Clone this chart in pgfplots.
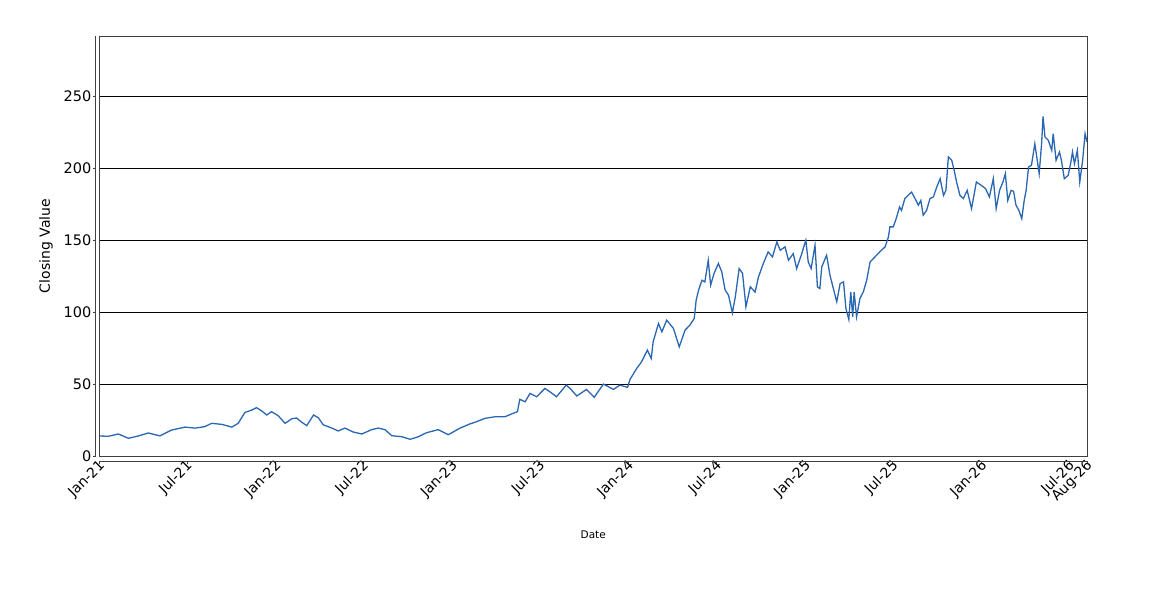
\documentclass[border=0pt]{standalone}
\usepackage{pgfplots}
\pgfplotsset{compat=1.18}
\usepackage{fontspec}
\setmainfont{DejaVu Sans}
\definecolor{linecol}{RGB}{42,102,178}
\definecolor{boxcol}{RGB}{64,64,64}
\begin{document}
\begin{tikzpicture}
\useasboundingbox (0,0) rectangle (1150bp,600bp);
\begin{axis}[
  name=ax,
  at={(99.5bp,144bp)}, anchor=south west,
  scale only axis, width=987.5bp, height=420bp,
  xmin=0, xmax=2044, ymin=0, ymax=292,
  axis line style={boxcol, line width=0.9bp},
  xtick={0,181,365,546,730,911,1095,1277,1461,1642,1826,2007,2044},
  xticklabels={Jan-21,Jul-21,Jan-22,Jul-22,Jan-23,Jul-23,Jan-24,Jul-24,Jan-25,Jul-25,Jan-26,Jul-26,Aug-26},
  ytick={0,50,100,150,200,250},
  tick pos=left, tick align=outside, major tick length=3bp,
  x tick style={boxcol, line width=0.8bp, yshift=-5.5bp},
  y tick style={boxcol, line width=0.8bp, xshift=-4bp},
  xticklabel style={font=\fontsize{14bp}{16bp}\selectfont, rotate=45, anchor=east, inner sep=1bp, yshift=-5.5bp},
  yticklabel style={font=\fontsize{14.5bp}{16bp}\selectfont, anchor=east, inner sep=1bp, xshift=-4bp},
  /pgf/number format/assume math mode=true,
  ymajorgrids, major grid style={black, line width=0.9bp},
  xlabel={Date}, ylabel={Closing Value},
  xlabel style={font=\fontsize{10.5bp}{12bp}\selectfont, at={(axis description cs:0.5,-0.188)}, anchor=center},
  ylabel style={font=\fontsize{14bp}{16bp}\selectfont, at={(axis description cs:-0.0542,0.5)}, anchor=center},
]
\addplot[linecol, line width=1.3bp] coordinates {
(1,13.9)(18,13.7)(39,15.3)(60,12.3)(80,13.9)(101,16.0)(125,14.0)(149,18.0)(177,20.1)(198,19.4)
(218,20.4)(232,22.7)(253,22.0)(274,20.1)(287,22.7)(301,30.3)(315,31.9)(325,33.6)(336,31.3)(346,28.5)
(356,30.8)(370,28.0)(384,22.7)(398,25.9)(408,26.4)(418,23.6)(429,21.1)(443,28.5)(453,26.6)(463,21.7)
(481,19.4)(494,17.4)(508,19.4)(525,16.7)(543,15.3)(563,18.3)(577,19.4)(591,18.3)(605,14.1)(626,13.4)
(643,11.6)(660,13.4)(677,16.2)(701,18.3)(722,14.8)(745,19.2)(766,22.2)(780,23.8)(798,26.2)(819,27.3)
(839,27.3)(853,29.2)(865,30.8)(870,39.4)(881,37.7)(891,43.5)(905,41.2)(922,47.0)(932,44.7)(946,41.2)
(966,49.3)(974,47.0)(988,41.7)(1008,46.3)(1024,40.8)(1043,50.0)(1064,46.3)(1077,49.3)(1093,47.7)(1098,53.2)
(1112,60.9)(1122,65.5)(1134,73.6)(1142,67.8)(1146,79.4)(1157,92.1)(1164,86.3)(1174,94.4)(1188,88.7)(1200,75.9)
(1212,87.5)(1222,91.0)(1231,95.6)(1235,108.3)(1240,115.3)(1247,122.2)(1253,121.0)(1260,136.1)(1265,118.8)(1272,126.9)
(1281,133.8)(1288,128.0)(1295,115.3)(1302,111.8)(1310,99.5)(1316,110.6)(1324,130.3)(1331,127.0)(1338,103.7)(1347,117.6)
(1357,114.0)(1364,124.5)(1374,133.8)(1384,141.9)(1393,138.4)(1402,148.8)(1409,143.0)(1419,145.4)(1426,136.1)(1436,140.7)
(1443,130.3)(1453,140.1)(1462,150.0)(1467,134.9)(1473,130.3)(1481,146.5)(1486,117.6)(1491,116.4)(1495,131.5)(1505,139.6)
(1512,125.7)(1519,116.4)(1526,107.2)(1533,119.9)(1540,121.0)(1545,102.5)(1551,94.9)(1555,114.1)(1559,96.7)(1562,114.1)
(1567,96.7)(1574,109.5)(1581,114.1)(1588,122.2)(1595,134.9)(1605,138.4)(1615,141.9)(1626,145.4)(1633,152.3)(1636,159.3)
(1643,159.3)(1649,165.0)(1656,173.1)(1660,170.8)(1667,179.0)(1674,181.3)(1681,183.5)(1688,179.0)(1695,174.4)(1700,177.7)
(1705,167.4)(1712,170.8)(1719,179.0)(1726,180.1)(1733,187.0)(1740,192.8)(1747,181.2)(1752,184.7)(1757,207.9)(1764,205.6)
(1769,198.6)(1774,190.5)(1781,181.2)(1788,179.0)(1796,184.7)(1805,172.0)(1815,190.5)(1825,188.2)(1834,185.9)(1842,180.1)
(1850,192.8)(1856,172.0)(1863,184.7)(1870,190.5)(1875,196.3)(1880,177.7)(1887,184.7)(1892,184.0)(1897,174.4)(1903,170.8)
(1909,165.0)(1914,177.7)(1918,184.7)(1923,200.9)(1929,202.1)(1936,217.1)(1940,207.9)(1945,196.3)(1950,217.1)(1953,236.1)
(1957,221.8)(1964,219.4)(1971,212.5)(1974,224.1)(1980,205.6)(1987,211.3)(1991,205.6)(1997,192.8)(2005,195.1)(2010,203.2)
(2014,211.3)(2018,203.2)(2024,212.5)(2029,190.5)(2035,205.6)(2040,224.1)(2044,218.3)
};
\end{axis}
\draw[boxcol, line width=0.9bp] ([xshift=-4bp]ax.south west) -- ([xshift=-4bp]ax.north west);
\draw[boxcol, line width=0.9bp] ([yshift=-5.5bp]ax.south west) -- ([yshift=-5.5bp]ax.south east);
\end{tikzpicture}
\end{document}
